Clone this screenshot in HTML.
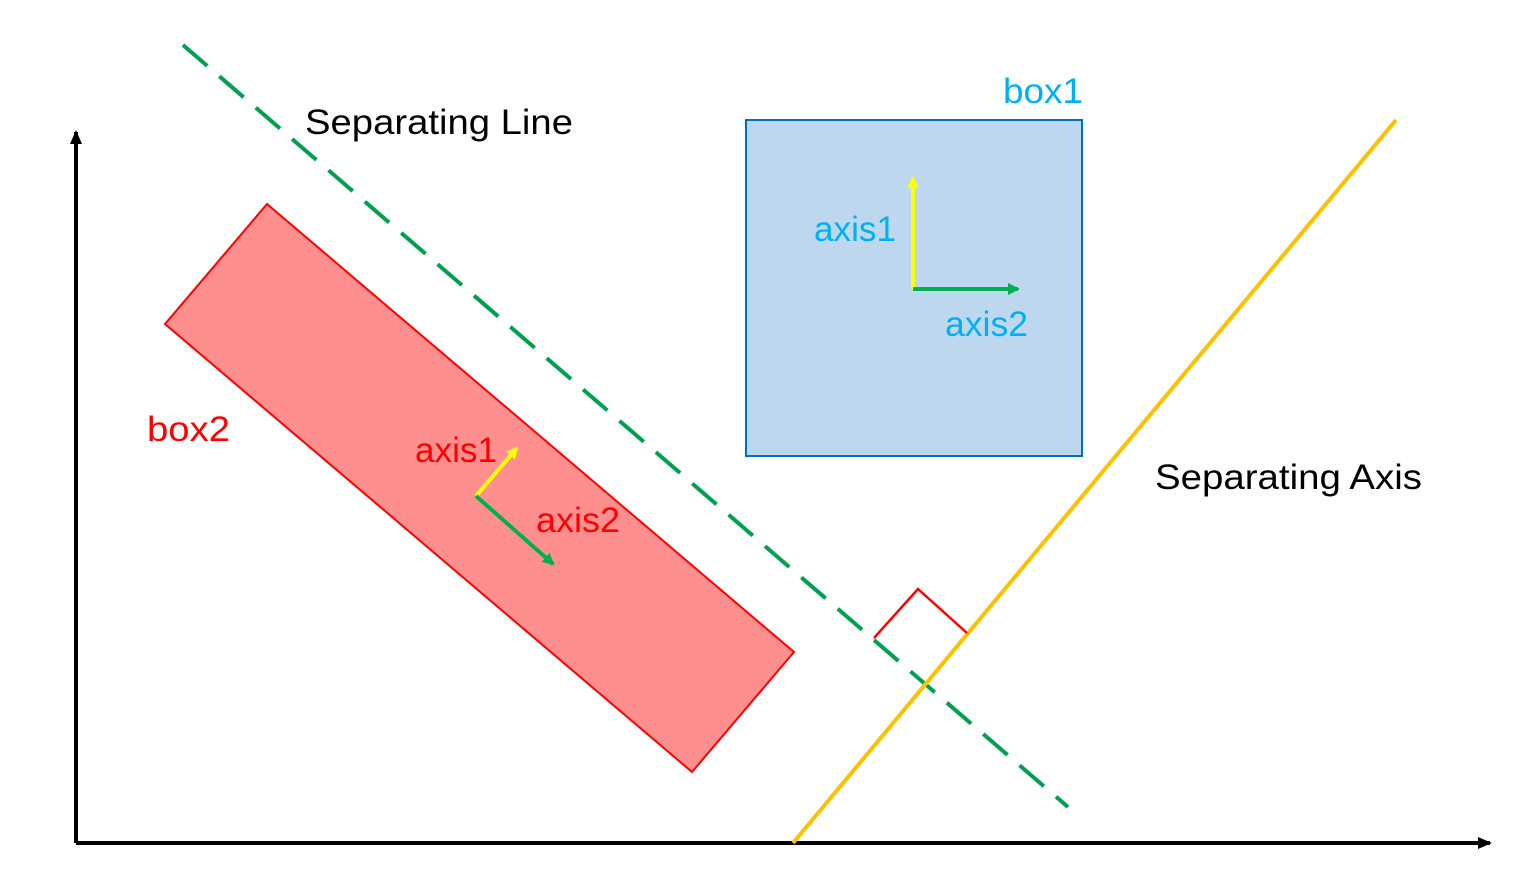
<!DOCTYPE html>
<html><head><meta charset="utf-8"><style>
html,body{margin:0;padding:0;background:#fff;}
svg{display:block;}
text{font-family:"Liberation Sans","Noto Sans CJK KR",sans-serif;font-size:35px;}
</style></head><body>
<svg width="1534" height="894" viewBox="0 0 1534 894" xmlns="http://www.w3.org/2000/svg">
<defs>
<marker id="ah" markerWidth="14" markerHeight="12" refX="12" refY="6" orient="auto" markerUnits="userSpaceOnUse"><path d="M0,0 L14,6 L0,12 z" fill="#000"/></marker>
<marker id="ay" markerWidth="12" markerHeight="12" refX="10" refY="6" orient="auto" markerUnits="userSpaceOnUse"><path d="M0,0 L12,6 L0,12 z" fill="#FFFF00"/></marker>
<marker id="ag" markerWidth="12" markerHeight="12" refX="10" refY="6" orient="auto" markerUnits="userSpaceOnUse"><path d="M0,0 L12,6 L0,12 z" fill="#00B050"/></marker>
</defs>
<line x1="76" y1="843" x2="76" y2="132" stroke="#000" stroke-width="4" marker-end="url(#ah)"/>
<line x1="76" y1="843" x2="1490" y2="843" stroke="#000" stroke-width="4" marker-end="url(#ah)"/>
<rect x="746" y="120" width="336" height="336" fill="#BDD7EE" stroke="#0070C0" stroke-width="2"/>
<polygon points="267,204 794,652 692,772 165,324" fill="#FF8F8F" stroke="#FF0000" stroke-width="2"/>
<line x1="183" y1="45" x2="1068" y2="807" stroke="#00A050" stroke-width="4" stroke-dasharray="32,16"/>
<line x1="793" y1="843" x2="1396" y2="120" stroke="#FFC000" stroke-width="4"/>
<polyline points="874,638 918,589 967,633" fill="none" stroke="#FF0000" stroke-width="2.5"/>
<line x1="913" y1="289" x2="913" y2="178" stroke="#FFFF00" stroke-width="4" marker-end="url(#ay)"/>
<line x1="913" y1="289" x2="1018" y2="289" stroke="#00B050" stroke-width="4" marker-end="url(#ag)"/>
<line x1="476" y1="496" x2="517" y2="448" stroke="#FFFF00" stroke-width="4" marker-end="url(#ay)"/>
<line x1="476" y1="496" x2="553" y2="564" stroke="#00B050" stroke-width="4" marker-end="url(#ag)"/>
<text x="305" y="134" fill="#000" textLength="268" lengthAdjust="spacingAndGlyphs">Separating Line</text>
<text x="1155" y="489" fill="#000" textLength="267" lengthAdjust="spacingAndGlyphs">Separating Axis</text>
<text x="1003" y="103" fill="#00B0F0" textLength="80" lengthAdjust="spacingAndGlyphs">box1</text>
<text x="814" y="241" fill="#00B0F0" textLength="82" lengthAdjust="spacingAndGlyphs">axis1</text>
<text x="945" y="336" fill="#00B0F0" textLength="83" lengthAdjust="spacingAndGlyphs">axis2</text>
<text x="147" y="441" fill="#FF0000" textLength="83" lengthAdjust="spacingAndGlyphs">box2</text>
<text x="415" y="462" fill="#FF0000" textLength="82" lengthAdjust="spacingAndGlyphs">axis1</text>
<text x="536" y="532" fill="#FF0000" textLength="84" lengthAdjust="spacingAndGlyphs">axis2</text>
</svg>
</body></html>
